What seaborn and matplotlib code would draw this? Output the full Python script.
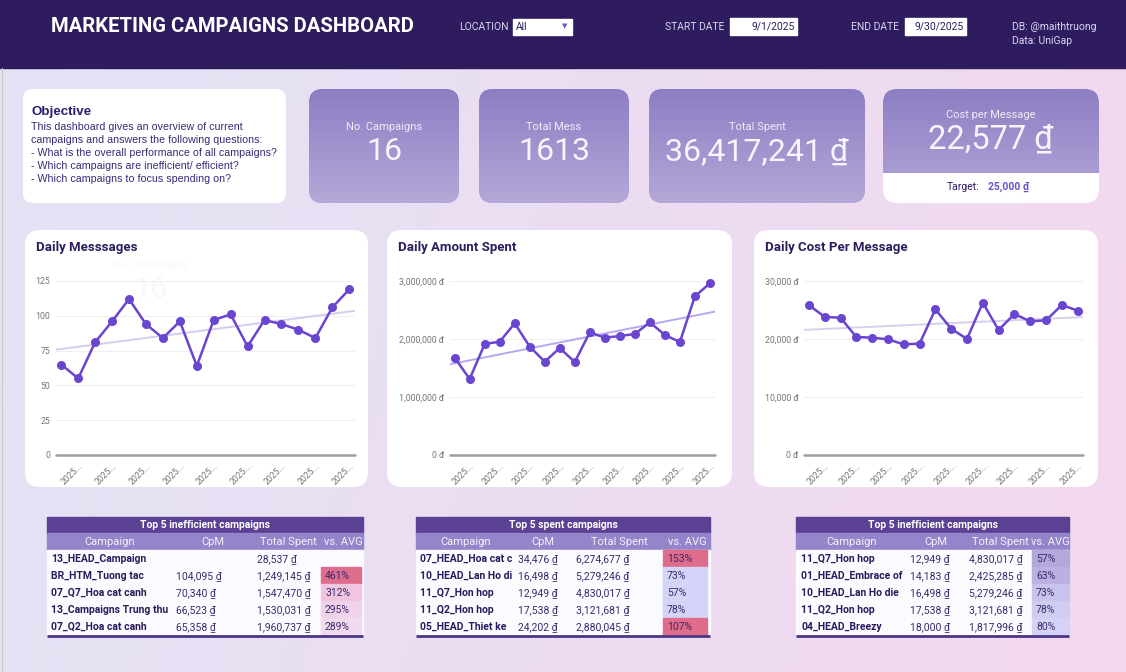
import numpy as np
import pandas as pd
import matplotlib
matplotlib.use("Agg")
import matplotlib.pyplot as plt
import matplotlib.colors as mcolors
from matplotlib.patches import FancyBboxPatch, Rectangle
import seaborn as sns

sns.set_theme(style="white")
plt.rcParams['font.family'] = ['Roboto', 'DejaVu Sans']

# ---------------- data ----------------
date_tick_labels = ["2025..."] * 9
daily_messages = [65, 55, 81, 96, 112, 94, 84, 96, 64, 97, 101, 78, 97, 94, 90, 84, 106, 119]
daily_spent = [1678000, 1310000, 1914000, 1954000, 2270000, 1868000, 1609000, 1845000, 1603000,
               2115000, 2023000, 2052000, 2086000, 2287000, 2069000, 1948000, 2736000, 2960000]
daily_cpm = [25860, 23790, 23680, 20340, 20230, 19940, 19080, 19200, 25110,
             21780, 20000, 26260, 21550, 24310, 23050, 23220, 25860, 24890]

kpi_labels = ["No. Campaigns", "Total Mess", "Total Spent", "Cost per Message"]
kpi_values = ["16", "1613", "36,417,241 ₫", "22,577 ₫"]
target_value = "25,000 ₫"

table_headers = ["Campaign", "CpM", "Total Spent", "vs. AVG"]

t1_campaign = ["13_HEAD_Campaign", "BR_HTM_Tuong tac", "07_Q7_Hoa cat canh", "13_Campaigns Trung thu", "07_Q2_Hoa cat canh"]
t1_cpm = [None, 104095, 70340, 66523, 65358]
t1_spent = [28537, 1249145, 1547470, 1530031, 1960737]
t1_vs = [None, 461, 312, 295, 289]

t2_campaign = ["07_HEAD_Hoa cat c", "10_HEAD_Lan Ho di", "11_Q7_Hon hop", "11_Q2_Hon hop", "05_HEAD_Thiet ke"]
t2_cpm = [34476, 16498, 12949, 17538, 24202]
t2_spent = [6274677, 5279246, 4830017, 3121681, 2880045]
t2_vs = [153, 73, 57, 78, 107]

t3_campaign = ["11_Q7_Hon hop", "01_HEAD_Embrace of", "10_HEAD_Lan Ho die", "11_Q2_Hon hop", "04_HEAD_Breezy"]
t3_cpm = [12949, 14183, 16498, 17538, 18000]
t3_spent = [4830017, 2425285, 5279246, 3121681, 1817996]
t3_vs = [57, 63, 73, 78, 80]

# ---------------- styles ----------------
W, H = 1126, 672
HEADER = "#2E1C5F"
DARK = "#2E1C5E"
LINE = "#6A45CF"
GRAY = "#757575"

fig = plt.figure(figsize=(W / 100, H / 100), dpi=100)
ax0 = fig.add_axes([0, 0, 1, 1])
ax0.set_xlim(0, W)
ax0.set_ylim(H, 0)
ax0.axis("off")

# background gradient
c_left = np.array(mcolors.to_rgb("#E3E3F5"))
c_right = np.array(mcolors.to_rgb("#F3D8EF"))
gx = np.linspace(0, 1, 200)[None, :]
gy = np.linspace(0, 1, 120)[:, None]
tt = np.clip(gx * 0.85 + gy * 0.15, 0, 1)
img = c_left[None, None, :] * (1 - tt[..., None]) + c_right[None, None, :] * tt[..., None]
ax0.imshow(img, extent=(0, W, H, 0), aspect="auto", zorder=0)

# header
ax0.add_patch(Rectangle((0, 0), W, 68, color=HEADER, zorder=1))
ax0.plot([2, 2], [68, H], color="#C8C8C8", lw=0.8, zorder=1)
ax0.text(51, 27, "MARKETING CAMPAIGNS DASHBOARD", color="white", fontsize=14.6,
         fontweight="bold", va="center", ha="left", zorder=3)
hdr_col = "#DAD6F2"
ax0.text(459, 27, "LOCATION", color=hdr_col, fontsize=7.5, va="center", zorder=3)
ax0.add_patch(Rectangle((513, 19), 59, 16, color="white", zorder=2))
ax0.text(516, 27, "All", color=DARK, fontsize=7.5, va="center", zorder=3)
ax0.text(565, 26, "▼", color="#6A5ACD", fontsize=5, va="center", ha="center", zorder=3,
         family=["DejaVu Sans"])
ax0.text(665, 27, "START DATE", color=hdr_col, fontsize=7.5, va="center", zorder=3)
ax0.add_patch(Rectangle((730, 18), 67, 17, color="white", zorder=2))
ax0.text(795, 27, "9/1/2025", color=DARK, fontsize=7.5, va="center", ha="right", zorder=3)
ax0.text(851, 27, "END DATE", color=hdr_col, fontsize=7.5, va="center", zorder=3)
ax0.add_patch(Rectangle((905, 18), 61, 17, color="white", zorder=2))
ax0.text(964, 27, "9/30/2025", color=DARK, fontsize=7.5, va="center", ha="right", zorder=3)
ax0.text(1012, 27, "DB: @maithtruong", color=hdr_col, fontsize=7.5, va="center", zorder=3)
ax0.text(1012, 41, "Data: UniGap", color=hdr_col, fontsize=7.5, va="center", zorder=3)


def card(x0, y0, x1, y1, color="white", r=12, z=2):
    p = FancyBboxPatch((x0, y0), x1 - x0, y1 - y0,
                       boxstyle=f"round,pad=0,rounding_size={r}",
                       facecolor=color, edgecolor="none", zorder=z)
    ax0.add_patch(p)
    return p


def gradient_into(patch, x0, y0, x1, y1, top="#8D7EC3", bottom="#B4A8D8", z=2.5):
    ct = np.array(mcolors.to_rgb(top))
    cb = np.array(mcolors.to_rgb(bottom))
    g = np.linspace(0, 1, 100)[:, None, None]
    im = ct * (1 - g) + cb * g
    im = np.repeat(im, 2, axis=1)
    art = ax0.imshow(im, extent=(x0, x1, y1, y0), aspect="auto", zorder=z)
    art.set_clip_path(patch)


# objective card
card(23, 89, 286, 203, r=10)
obj_font = ["Liberation Sans", "DejaVu Sans"]
ax0.text(31, 112, "Objective", color="#2E1C6E", fontsize=9.6, fontweight="bold",
         va="center", family=obj_font, zorder=3)
obj_lines = ["This dashboard gives an overview of current",
             "campaigns and answers the following questions:",
             "- What is the overall performance of all campaigns?",
             "- Which campaigns are inefficient/ efficient?",
             "- Which campaigns to focus spending on?"]
for i, s in enumerate(obj_lines):
    ax0.text(31, 127 + 13 * i, s, color="#3A2A78", fontsize=7.65, va="center",
             family=obj_font, zorder=3)

# KPI cards
kpi_boxes = [(309, 459), (479, 629), (649, 865)]
for (x0, x1), lab, val in zip(kpi_boxes, kpi_labels[:3], kpi_values[:3]):
    p = card(x0, 89, x1, 203, color="#A092CC", r=14)
    gradient_into(p, x0, 89, x1, 203)
    cx = (x0 + x1) / 2
    ax0.text(cx, 127, lab, color="#EEEAF9", fontsize=8, ha="center", va="center", zorder=3)
    ax0.text(cx, 152, val, color="#F7F5FC", fontsize=23, ha="center", va="center", zorder=3)

p4 = card(883, 89, 1099, 203, color="white", r=14)
gradient_into(p4, 883, 89, 1099, 173, top="#8D7EC3", bottom="#AA9CD3")
ax0.text(991, 115, kpi_labels[3], color="#EEEAF9", fontsize=8, ha="center", va="center", zorder=3)
ax0.text(991, 140, kpi_values[3], color="#F7F5FC", fontsize=23.5, ha="center", va="center", zorder=3)
ax0.text(947, 187, "Target:", color=DARK, fontsize=7.5, va="center", zorder=3)
ax0.text(988, 187, target_value, color="#6A4FD0", fontsize=7.5, fontweight="bold", va="center", zorder=3)

# chart cards
chart_cards = [(25, 368, "Daily Messsages"), (387, 732, "Daily Amount Spent"),
               (754, 1098, "Daily Cost Per Message")]
for x0, x1, title in chart_cards:
    card(x0, 230, x1, 487, r=15)
    ax0.text(x0 + 11, 247, title, color=DARK, fontsize=9.5, fontweight="bold", va="center", zorder=3)

# ghost overlay text in first chart (very faint in the original)
ax0.text(150, 265, "No. Campaigns", color="#F8F7FC", fontsize=8, ha="center", va="center", zorder=3)
ax0.text(151, 290, "16", color="#F8F7FC", fontsize=22, ha="center", va="center", zorder=3)


def line_chart(px0, px1, values, yticks, ylabels, trend_color):
    py0, py1 = 281, 455
    ax = fig.add_axes([px0 / W, 1 - py1 / H, (px1 - px0) / W, (py1 - py0) / H])
    ax.patch.set_alpha(0)
    n = len(values)
    df = pd.DataFrame({"day": np.arange(n), "value": values})
    xl = (-0.31, n - 1 + 0.34)
    ax.set_xlim(*xl)
    ax.set_ylim(yticks[0], yticks[-1])
    ax.set_yticks(yticks)
    ax.set_yticklabels(ylabels)
    ax.grid(axis="y", color="#EFEFF3", lw=0.8)
    ax.set_axisbelow(True)
    sns.regplot(data=df, x="day", y="value", scatter=False, ci=None, truncate=False, ax=ax,
                line_kws=dict(color=trend_color, lw=1.4, zorder=2))
    sns.lineplot(data=df, x="day", y="value", ax=ax, color=LINE, lw=1.8, marker="o",
                 markersize=6.5, markeredgewidth=0, zorder=3, clip_on=False)
    ax.set_xlim(*xl)
    ax.set_ylim(yticks[0], yticks[-1])
    ax.axhline(yticks[0], color="#9E9E9E", lw=1.8, zorder=1, clip_on=False)
    for s in ax.spines.values():
        s.set_visible(False)
    ax.set_xticks(np.arange(1, n, 2))
    ax.set_xticklabels(date_tick_labels, rotation=45, ha="right", rotation_mode="anchor")
    ax.tick_params(axis="both", length=0, labelsize=6.3, labelcolor=GRAY)
    ax.tick_params(axis="y", pad=4)
    ax.tick_params(axis="x", pad=5)
    ax.set_xlabel("")
    ax.set_ylabel("")
    return ax


line_chart(56, 355, daily_messages, [0, 25, 50, 75, 100, 125],
           ["0", "25", "50", "75", "100", "125"], "#D3CCEC")
line_chart(450, 715, daily_spent, [0, 1000000, 2000000, 3000000],
           ["0 đ", "1,000,000 đ", "2,000,000 đ", "3,000,000 đ"], "#B8A8F0")
line_chart(804, 1083, daily_cpm, [0, 10000, 20000, 30000],
           ["0 đ", "10,000 đ", "20,000 đ", "30,000 đ"], "#D6D0EE")


# tables
def fmt(v):
    return "" if v is None else f"{v:,} ₫"


FS = 7.5


def table(x0, x1, title, hdr_centers, col_x, vs_x, vs_bg, names, cpm, spent, vs, vs_colors):
    ax0.add_patch(Rectangle((x0, 517), x1 - x0, 16, color="#5A4194", zorder=2))
    ax0.add_patch(Rectangle((x0, 533), x1 - x0, 17, color="#9484C9", zorder=2))
    ax0.add_patch(Rectangle((x0, 550), x1 - x0, 85, color="#FBFAFF", zorder=2))
    ax0.plot([x0, x1], [635.5, 635.5], color="#4B3585", lw=2, zorder=4, solid_capstyle="butt")
    ax0.text((x0 + x1) / 2, 525, title, color="white", fontsize=7.5, fontweight="bold",
             ha="center", va="center", zorder=3)
    for lab, cx in zip(table_headers, hdr_centers):
        ax0.text(cx, 542, lab, color="#F4F2FB", fontsize=8, ha="center", va="center", zorder=3)
    for i in range(5):
        yc = 559 + 17 * i
        if vs[i] is not None:
            ax0.add_patch(Rectangle((vs_bg[0], 550 + 17 * i), vs_bg[1] - vs_bg[0], 17,
                                    color=vs_colors[i], zorder=2.5))
        ax0.text(col_x[0], yc, names[i], color="#2B1A5E", fontsize=FS, fontweight="bold",
                 va="center", zorder=3)
        ax0.text(col_x[1], yc, fmt(cpm[i]), color="#3B2A6E", fontsize=FS, va="center", zorder=3)
        ax0.text(col_x[2], yc, fmt(spent[i]), color="#3B2A6E", fontsize=FS, va="center", zorder=3)
        if vs[i] is not None:
            ax0.text(vs_x, yc, f"{vs[i]}%", color="#3B2A6E", fontsize=FS, va="center", zorder=3)


table(47, 363, "Top 5 inefficient campaigns", [110, 213, 288, 343], [51, 176, 257], 325, (321, 361),
      t1_campaign, t1_cpm, t1_spent, t1_vs,
      [None, "#DE6C8A", "#F0C5E0", "#F0D3EA", "#F2DAEE"])
table(416, 710, "Top 5 spent campaigns", [466, 543, 619, 687], [420, 518, 576], 667, (663, 707),
      t2_campaign, t2_cpm, t2_spent, t2_vs,
      ["#DE6C8A", "#D4D4F8", "#D4D4F8", "#D4D4F8", "#DE6C8A"])
table(796, 1069, "Top 5 inefficient campaigns", [852, 936, 1000, 1050], [801, 910, 969], 1036, (1032, 1069),
      t3_campaign, t3_cpm, t3_spent, t3_vs,
      ["#B4A8DA", "#BBB0DF", "#C8C3EC", "#CFCDF2", "#D4D3F5"])

fig.savefig("out.png", dpi=100)
